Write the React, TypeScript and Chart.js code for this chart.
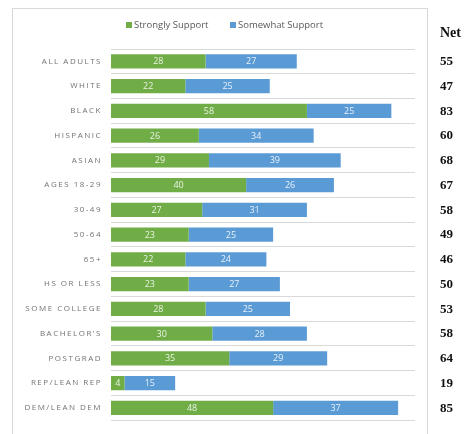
import React, { useEffect, useRef } from "react";
import { Chart, registerables } from "chart.js";

Chart.register(...registerables);

const categories = [
  "ALL ADULTS",
  "WHITE",
  "BLACK",
  "HISPANIC",
  "ASIAN",
  "AGES 18-29",
  "30-49",
  "50-64",
  "65+",
  "HS OR LESS",
  "SOME COLLEGE",
  "BACHELOR'S",
  "POSTGRAD",
  "REP/LEAN REP",
  "DEM/LEAN DEM",
];
const stronglySupport = [28, 22, 58, 26, 29, 40, 27, 23, 22, 23, 28, 30, 35, 4, 48];
const somewhatSupport = [27, 25, 25, 34, 39, 26, 31, 25, 24, 27, 25, 28, 29, 15, 37];
const netValues = [55, 47, 83, 60, 68, 67, 58, 49, 46, 50, 53, 58, 64, 19, 85];
const seriesNames = ["Strongly Support", "Somewhat Support"];
const seriesColors = ["#70AD47", "#5B9BD5"];
const netTitle = "Net";
const xMax = 90;

export default function App() {
  const ref = useRef<HTMLCanvasElement>(null);

  useEffect(() => {
    const canvas = ref.current;
    if (!canvas) return;

    const overlay = {
      id: "overlay",
      beforeDraw(chart: any) {
        const ctx = chart.ctx;
        ctx.save();
        ctx.fillStyle = "#ffffff";
        ctx.fillRect(0, 0, chart.width, chart.height);
        ctx.strokeStyle = "#d9d9d9";
        ctx.lineWidth = 1;
        ctx.strokeRect(12.5, 8.5, 415, 440);
        // legend
        ctx.font = "9.5px 'Open Sans'";
        ctx.textBaseline = "middle";
        ctx.textAlign = "left";
        const legendX = [126, 230];
        seriesNames.forEach((name, i) => {
          ctx.fillStyle = seriesColors[i];
          ctx.fillRect(legendX[i], 22, 6, 6);
          ctx.fillStyle = "#595959";
          ctx.fillText(name, legendX[i] + 8, 25);
        });
        ctx.restore();
      },
      afterDatasetsDraw(chart: any) {
        const ctx = chart.ctx;
        ctx.save();
        ctx.font = "9px 'Open Sans'";
        ctx.textAlign = "center";
        ctx.textBaseline = "middle";
        ctx.fillStyle = "rgba(255,255,255,0.85)";
        chart.data.datasets.forEach((ds: any, di: number) => {
          const meta = chart.getDatasetMeta(di);
          meta.data.forEach((el: any, i: number) => {
            const cx = (el.x + el.base) / 2;
            ctx.fillText(String(ds.data[i]), cx, el.y + 0.5);
          });
        });
        ctx.restore();
        (ctx as any).letterSpacing = "1.5px";
      },
      afterDraw(chart: any) {
        const ctx = chart.ctx;
        (ctx as any).letterSpacing = "0px";
        ctx.save();
        ctx.fillStyle = "#111111";
        ctx.textAlign = "left";
        ctx.textBaseline = "middle";
        ctx.font = "bold 14px 'Liberation Serif'";
        ctx.fillText(netTitle, 440, 33);
        ctx.font = "bold 13px 'Liberation Serif'";
        const yScale = chart.scales.y;
        netValues.forEach((v, i) => {
          ctx.fillText(String(v), 440, yScale.getPixelForValue(i) + 0.5);
        });
        ctx.restore();
      },
    };

    const chart = new Chart(canvas, {
      type: "bar",
      data: {
        labels: categories,
        datasets: [
          {
            label: seriesNames[0],
            data: stronglySupport,
            backgroundColor: seriesColors[0],
            borderWidth: 0,
            barPercentage: 0.58,
            categoryPercentage: 1,
          },
          {
            label: seriesNames[1],
            data: somewhatSupport,
            backgroundColor: seriesColors[1],
            borderWidth: 0,
            barPercentage: 0.58,
            categoryPercentage: 1,
          },
        ],
      },
      options: {
        indexAxis: "y",
        responsive: false,
        animation: false,
        layout: { padding: { left: 12, right: 59, top: 49, bottom: 9 } },
        plugins: {
          legend: { display: false },
          tooltip: { enabled: false },
        },
        scales: {
          x: {
            display: false,
            stacked: true,
            min: 0,
            max: xMax,
          },
          y: {
            stacked: true,
            afterFit: (s: any) => {
              s.width = 99;
            },
            border: { display: false },
            grid: {
              color: "#d9d9d9",
              drawTicks: false,
              offset: true,
            },
            ticks: {
              z: 1,
              padding: 9,
              color: "#737373",
              font: { family: "'Open Sans'", size: 8 },
            },
          },
        },
      },
      plugins: [overlay],
    });

    return () => chart.destroy();
  }, []);

  return (
    <div style={{ position: "absolute", left: 0, top: 0, width: 474, height: 434, background: "#fff" }}>
      <canvas ref={ref} width={474} height={434} style={{ display: "block" }} />
    </div>
  );
}
